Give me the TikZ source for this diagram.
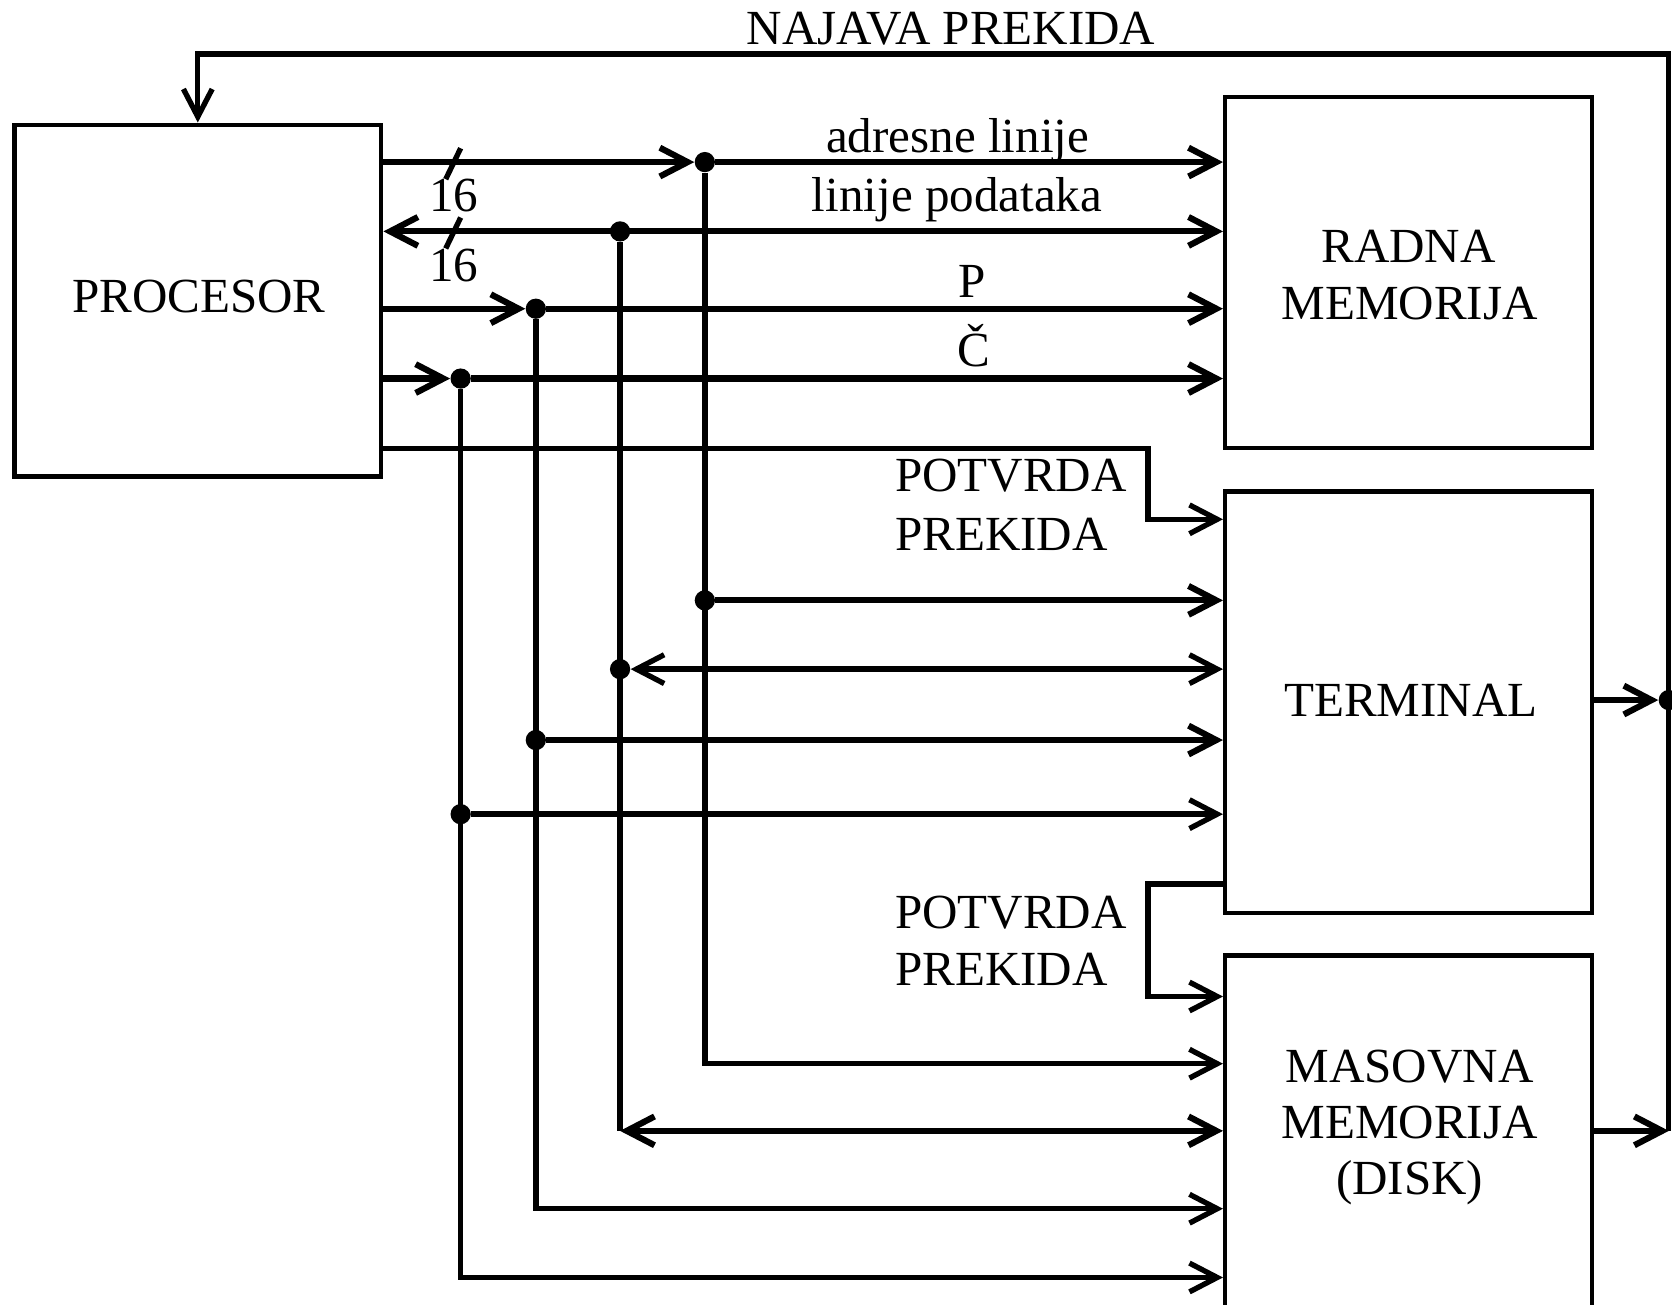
\documentclass[tikz,border=0pt]{standalone}
\usepackage{fontspec}
\setmainfont{Liberation Serif}
\usetikzlibrary{arrows.meta}
\begin{document}
\begin{tikzpicture}[x=0.5pt,y=-0.5pt,
  box/.style={draw, line width=2.1pt, minimum width=172pt, inner sep=0pt},
  lbl/.style={inner sep=0pt, anchor=base, font=\fontsize{23}{27}\selectfont},
  wire/.style={line width=2.5pt},
  hwire/.style={line width=2.9pt},
  fwd/.style={-{Straight Barb[length=13pt,width=13.5pt]}},
  twoway/.style={{Straight Barb[length=13pt,width=13.5pt]}-{Straight Barb[length=13pt,width=13.5pt]}},
  dot/.style={circle, fill, inner sep=0pt, minimum size=9.5pt}]
\useasboundingbox (0,0) rectangle (1568,1223);
% boxes
\node[box, minimum height=165pt] (proc) at (185.5,282) {};
\node[box, minimum height=164.5pt] (ram) at (1321,255.5) {};
\node[box, minimum height=197.5pt] (term) at (1321,658.5) {};
\node[box, minimum height=165pt] (disk) at (1321,1061) {};
% labels
\node[lbl] (proclbl) at (186.5,293) {PROCESOR};
\node[lbl] (ram1) at (1321,246) {RADNA};
\node[lbl] (ram2) at (1322,300) {MEMORIJA};
\node[lbl] (termlbl) at (1323,672) {TERMINAL};
\node[lbl] (disk1) at (1322,1015) {MASOVNA};
\node[lbl] (disk2) at (1322,1068) {MEMORIJA};
\node[lbl] (disk3) at (1322,1120) {(DISK)};
\node[lbl] (naj) at (892,42) {NAJAVA PREKIDA};
\node[lbl] (adr) at (898,143) {adresne linije};
\node[lbl] (pod) at (897.5,198) {linije podataka};
\node[lbl] (plbl) at (912,279) {P};
\node[lbl] (clbl) at (913,344) {Č};
\node[lbl, anchor=base west] (pot1a) at (839,461) {POTVRDA};
\node[lbl, anchor=base west] (pot1b) at (839,516) {PREKIDA};
\node[lbl, anchor=base west] (pot2a) at (839,871) {POTVRDA};
\node[lbl, anchor=base west] (pot2b) at (839,924) {PREKIDA};
\node[lbl] (n16a) at (425.5,198) {16};
\node[lbl] (n16b) at (425.5,264) {16};
% junction dots
\node[dot] (dA) at (661,152) {};
\node[dot] (dD) at (581.5,217) {};
\node[dot] (dP) at (502.5,289.5) {};
\node[dot] (dC) at (432,355) {};
\node[dot] (dA2) at (661,563) {};
\node[dot] (dD2) at (581.5,627.5) {};
\node[dot] (dP2) at (502.5,694) {};
\node[dot] (dC2) at (432,763.5) {};
\node[dot] (dT) at (1565,656.5) {};
% corners
\coordinate (cA) at (661,997.5);
\coordinate (cD) at (581.5,1060.5);
\coordinate (cP) at (502.5,1133.5);
\coordinate (cC) at (432,1198);
\coordinate (cR) at (1565,1060.5);
\coordinate (tr) at (1565,50.5);
\coordinate (tl) at (185.5,50.5);
\coordinate (q1) at (1076.5,420.5);
\coordinate (q1b) at (1076.5,487);
\coordinate (q2) at (1076.5,829);
\coordinate (q2b) at (1076.5,934.5);
\coordinate (sA) at (425,153);
\coordinate (sD) at (425,218);
% main buses
\draw[hwire,fwd] (proc.east |- dA) -- (dA);
\draw[hwire,fwd] (dA) -- (ram.west |- dA);
\draw[hwire,twoway] (proc.east |- dD) -- (ram.west |- dD);
\draw[hwire,fwd] (proc.east |- dP) -- (dP);
\draw[hwire,fwd] (dP) -- (ram.west |- dP);
\draw[hwire,fwd] (proc.east |- dC) -- (dC);
\draw[hwire,fwd] (dC) -- (ram.west |- dC);
% bus widths
\draw[wire] ([shift={(-7,15)}]sA) -- ([shift={(7,-14)}]sA);
\draw[wire] ([shift={(-7,15)}]sD) -- ([shift={(7,-14)}]sD);
% branches
\draw[wire,fwd] (dA) -- (cA) -- (disk.west |- cA);
\draw[hwire,fwd] (dA2) -- (term.west |- dA2);
\draw[wire] (dD) -- (cD);
\draw[hwire,twoway] (cD) -- (disk.west |- cD);
\draw[wire,twoway] (dD2) -- (term.west |- dD2);
\draw[wire,fwd] (dP) -- (cP) -- (disk.west |- cP);
\draw[hwire,fwd] (dP2) -- (term.west |- dP2);
\draw[wire,fwd] (dC) -- (cC) -- (disk.west |- cC);
\draw[wire,fwd] (dC2) -- (term.west |- dC2);
% interrupt acknowledge
\draw[wire,fwd] (proc.east |- q1) -- (q1) -- (q1b) -- (term.west |- q1b);
\draw[wire,fwd] (term.west |- q2) -- (q2) -- (q2b) -- (disk.west |- q2b);
% interrupt request
\draw[hwire,fwd] (term.east |- dT) -- (dT);
\draw[hwire,fwd] (disk.east |- cR) -- (cR);
\draw[wire,fwd] (cR) -- (tr) -- (tl) -- (proc.north);
\end{tikzpicture}
\end{document}
